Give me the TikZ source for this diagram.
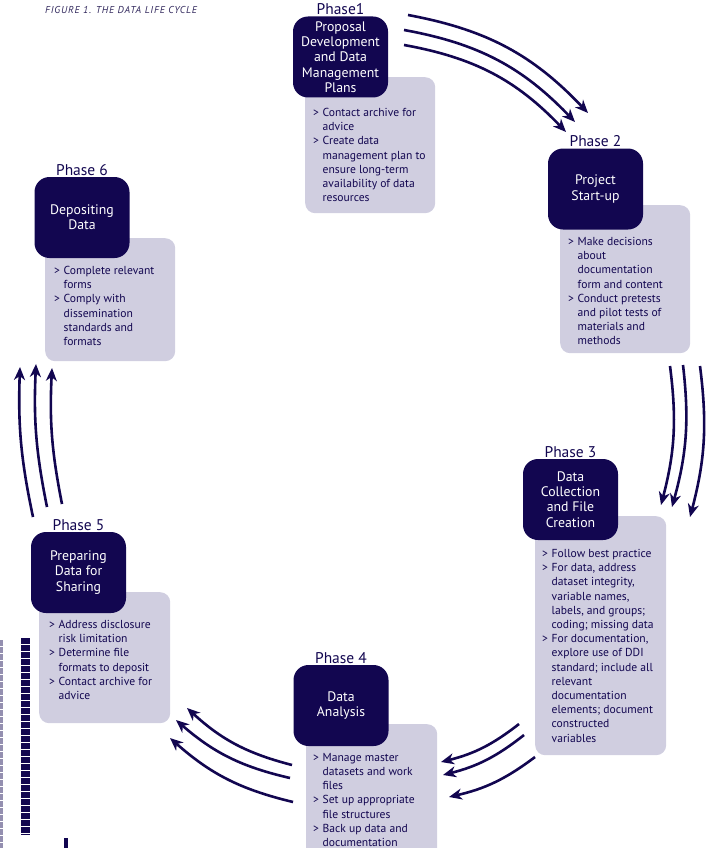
\documentclass[tikz,border=0pt]{standalone}
\usepackage{fontspec}
\setmainfont{PT Sans}
\usetikzlibrary{arrows.meta,positioning}
\definecolor{navy}{RGB}{18,6,80}
\definecolor{lilac}{RGB}{208,206,224}
\newcommand{\bul}{\makebox[9.5pt][l]{>}}
\newcommand{\cnt}{\hspace*{9.5pt}}

\begin{document}
\begin{tikzpicture}[x=1pt,y=-1pt,
  phase box/.style={rectangle,rounded corners=15pt,fill=navy,text=white,align=center,minimum width=95pt,minimum height=81pt,inner sep=0pt,font=\fontsize{13.8}{15.2}\selectfont},
  note box/.style={rectangle,rounded corners=10pt,fill=lilac,anchor=north west,inner sep=0pt},
  note text/.style={align=left,inner sep=0pt,text=navy,font=\fontsize{11.6}{14.2}\selectfont},
  phase label/.style={text=navy,inner sep=0pt,font=\fontsize{15.5}{16}\selectfont},
  cycle arrow/.style={-{Stealth[length=13pt,width=11pt,inset=4pt]},line width=2.6pt,draw=navy}]

\useasboundingbox (0,0) rectangle (720,848);

\node[anchor=west,inner sep=0pt,text=navy!70!gray,font=\fontsize{10}{12}\selectfont\itshape\addfontfeatures{LetterSpace=8}] (title) at (45,10) {FIGURE 1. THE DATA LIFE CYCLE};

\node[note box,minimum width=130pt,minimum height=136pt] (1n) at (305,77) {};
\node[note box,minimum width=130pt,minimum height=148pt] (2n) at (560,205) {};
\node[note box,minimum width=131pt,minimum height=239pt] (3n) at (535,516) {};
\node[note box,minimum width=131pt,minimum height=140pt] (4n) at (306,724) {};
\node[note box,minimum width=131pt,minimum height=131pt] (5n) at (39,592) {};
\node[note box,minimum width=130pt,minimum height=123pt] (6n) at (45,238) {};

\node[phase box] (1) at (340.5,57) {Proposal\\Development\\and Data\\Management\\Plans};
\node[phase box] (2) at (595.5,189) {Project\\Start-up};
\node[phase box] (3) at (570.5,499.5) {Data\\Collection\\and File\\Creation};
\node[phase box] (4) at (341,705.5) {Data\\Analysis};
\node[phase box] (5) at (78.5,572.5) {Preparing\\Data for\\Sharing};
\node[phase box] (6) at (82,217.5) {Depositing\\Data};

\node[phase label,above=1pt of 1] (1l) {Phase1};
\node[phase label,above=1pt of 2] (2l) {Phase 2};
\node[phase label,above=1pt of 3] (3l) {Phase 3};
\node[phase label,above=1pt of 4] (4l) {Phase 4};
\node[phase label,above=1pt of 5] (5l) {Phase 5};
\node[phase label,above=1pt of 6] (6l) {Phase 6};

\node[note text,below right=31pt and 8pt of 1n.north west] (1t)
  {\bul Contact archive for\\\cnt advice\\\bul Create data\\\cnt management plan to\\\cnt ensure long-term\\\cnt availability of data\\\cnt resources};
\node[note text,below right=32pt and 8pt of 2n.north west] (2t)
  {\bul Make decisions\\\cnt about\\\cnt documentation\\\cnt form and content\\\bul Conduct pretests\\\cnt and pilot tests of\\\cnt materials and\\\cnt methods};
\node[note text,below right=33pt and 7pt of 3n.north west] (3t)
  {\bul Follow best practice\\\bul For data, address\\\cnt dataset integrity,\\\cnt variable names,\\\cnt labels, and groups;\\\cnt coding; missing data\\\bul For documentation,\\\cnt explore use of DDI\\\cnt standard; include all\\\cnt relevant\\\cnt documentation\\\cnt elements; document\\\cnt constructed\\\cnt variables};
\node[note text,below right=29pt and 7pt of 4n.north west] (4t)
  {\bul Manage master\\\cnt datasets and work\\\cnt files\\\bul Set up appropriate\\\cnt file structures\\\bul Back up data and\\\cnt documentation};
\node[note text,below right=28pt and 10pt of 5n.north west] (5t)
  {\bul Address disclosure\\\cnt risk limitation\\\bul Determine file\\\cnt formats to deposit\\\bul Contact archive for\\\cnt advice};
\node[note text,below right=28pt and 9pt of 6n.north west] (6t)
  {\bul Complete relevant\\\cnt forms\\\bul Comply with\\\cnt dissemination\\\cnt standards and\\\cnt formats};

\foreach \n/\sx/\sy/\ex/\ey/\b in {
  a/408/15/588/113/18, b/404/30/575/122/18, c/404/45/566/132/18,
  d/700/366/690/517/11, e/683/365/672/507/11, f/670/366/661/505/11,
  g/535/757/449/797/12, h/524/735/443/775/12, i/519/724/441/762/12,
  j/293/802/170/738/14, k/290/778/176/720/14, l/292/765/187/708/14,
  m/33/517/20/367/7, n/47/507/36/364/7, o/62/504/52/368/7} {
  \coordinate (\n0) at (\sx,\sy);
  \coordinate (\n1) at (\ex,\ey);
  \draw[cycle arrow] (\n0) to[bend left=\b] (\n1);
}

\draw[navy!45,line width=3pt,dash pattern=on 6pt off 1pt] (1.5,640) -- (1.5,848);
\draw[navy,line width=9pt,dash pattern=on 6pt off 1pt] (25.5,638) -- (25.5,835);
\fill[navy] (64,838) rectangle (68,848);
\end{tikzpicture}
\end{document}
